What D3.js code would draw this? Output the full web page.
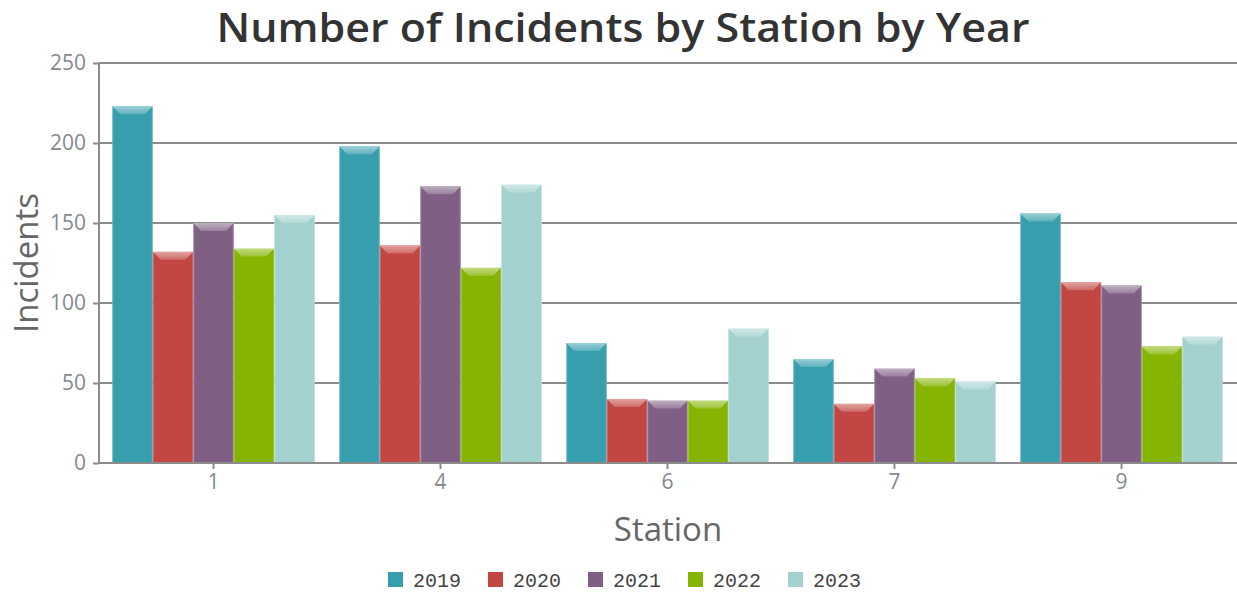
<!DOCTYPE html>
<html>
<head>
<meta charset="utf-8">
<script src="https://cdn.jsdelivr.net/npm/d3@7"></script>
<style>
  html, body { margin: 0; padding: 0; background: #fff; }
  svg { display: block; }
</style>
</head>
<body>
<svg id="chart" width="1237" height="592"></svg>
<script>
// Incidents per station, one series per year
const stations = ["1", "4", "6", "7", "9"];
const years = ["2019", "2020", "2021", "2022", "2023"];
const incidents2019 = [223, 198, 75, 65, 156];
const incidents2020 = [132, 136, 40, 37, 113];
const incidents2021 = [150, 173, 39, 59, 111];
const incidents2022 = [134, 122, 39, 53, 73];
const incidents2023 = [155, 174, 84, 51, 79];
const yTicks = [0, 50, 100, 150, 200, 250];
const yearColors = ["#369EAD", "#C24642", "#7F6084", "#86B402", "#A2D1CF"];

const seriesValues = [incidents2019, incidents2020, incidents2021, incidents2022, incidents2023];

const W = 1237, H = 592;
const plot = { left: 99, right: 1236, top: 63, bottom: 463 };
const svg = d3.select("#chart");

const labelFont = "'Open Sans', 'Segoe UI', sans-serif";

const x = d3.scaleBand()
  .domain(stations)
  .range([plot.left + 1, plot.right - 1])
  .paddingInner(0.108)
  .paddingOuter(0.054);

const xYear = d3.scaleBand()
  .domain(years)
  .range([0, x.bandwidth()])
  .padding(0);

const y = d3.scaleLinear()
  .domain([0, 250])
  .range([plot.bottom, plot.top]);

const color = d3.scaleOrdinal().domain(years).range(yearColors);

// Bevel gradient used on the top of every bar
const defs = svg.append("defs");
const grad = defs.append("linearGradient")
  .attr("id", "bevelTop").attr("x1", 0).attr("y1", 0).attr("x2", 0).attr("y2", 1);
grad.append("stop").attr("offset", "0%").attr("stop-color", "#fff").attr("stop-opacity", 0.5);
grad.append("stop").attr("offset", "100%").attr("stop-color", "#fff").attr("stop-opacity", 0.2);

// Horizontal grid lines
svg.append("g")
  .selectAll("line")
  .data(yTicks.filter(d => d > 0))
  .join("line")
  .attr("x1", plot.left)
  .attr("x2", W)
  .attr("y1", d => y(d))
  .attr("y2", d => y(d))
  .attr("stroke", "#8c8c8c")
  .attr("stroke-width", 2);

// Bars
const rows = stations.map((s, i) => ({
  station: s,
  values: years.map((yr, j) => ({ year: yr, value: seriesValues[j][i] }))
}));

const groups = svg.append("g")
  .selectAll("g")
  .data(rows)
  .join("g")
  .attr("transform", d => `translate(${x(d.station)},0)`);

const bars = groups.selectAll("g")
  .data(d => d.values)
  .join("g");

bars.append("rect")
  .attr("x", d => xYear(d.year))
  .attr("y", d => y(d.value))
  .attr("width", xYear.bandwidth())
  .attr("height", d => y(0) - y(d.value))
  .attr("fill", d => color(d.year));

const bevel = 8;
bars.append("path")
  .attr("d", d => {
    const x0 = xYear(d.year), x1 = x0 + xYear.bandwidth(), t = y(d.value);
    return `M${x0},${t}L${x1},${t}L${x1 - bevel},${t + bevel}L${x0 + bevel},${t + bevel}Z`;
  })
  .attr("fill", "url(#bevelTop)");

// thin light edges on each bar
bars.append("rect")
  .attr("x", d => xYear(d.year))
  .attr("y", d => y(d.value))
  .attr("width", 1)
  .attr("height", d => y(0) - y(d.value))
  .attr("fill", "#fff").attr("fill-opacity", 0.25);
bars.append("rect")
  .attr("x", d => xYear(d.year) + xYear.bandwidth() - 1)
  .attr("y", d => y(d.value))
  .attr("width", 1)
  .attr("height", d => y(0) - y(d.value))
  .attr("fill", "#fff").attr("fill-opacity", 0.2);

// Y axis
const yAxis = svg.append("g")
  .attr("transform", `translate(${plot.left},0)`)
  .call(d3.axisLeft(y).tickValues(yTicks).tickSize(6).tickPadding(7));
yAxis.select(".domain").attr("stroke", "#8c8c8c").attr("stroke-width", 2)
  .attr("d", `M0,${plot.top - 1}V${plot.bottom + 1}`);
yAxis.selectAll(".tick line").attr("stroke", "#8c8c8c").attr("stroke-width", 2);
yAxis.selectAll(".tick text")
  .attr("fill", "#84898f")
  .style("font-family", labelFont)
  .style("font-size", "21px");

// X axis
const xAxis = svg.append("g")
  .attr("transform", `translate(0,${plot.bottom})`)
  .call(d3.axisBottom(x).tickSize(6).tickPadding(5));
xAxis.select(".domain").attr("stroke", "#8c8c8c").attr("stroke-width", 2)
  .attr("d", `M${plot.left},0H${W}`);
xAxis.selectAll(".tick line").attr("stroke", "#8c8c8c").attr("stroke-width", 2);
xAxis.selectAll(".tick text")
  .attr("fill", "#84898f")
  .style("font-family", labelFont)
  .style("font-size", "21px");

// Title
svg.append("text")
  .attr("x", 623)
  .attr("y", 42)
  .attr("text-anchor", "middle")
  .attr("fill", "#333")
  .attr("textLength", 813)
  .attr("lengthAdjust", "spacingAndGlyphs")
  .style("font-family", labelFont)
  .style("font-weight", "600")
  .style("font-size", "39px")
  .text("Number of Incidents by Station by Year");

// Axis titles
svg.append("text")
  .attr("x", (plot.left + W) / 2)
  .attr("y", 541)
  .attr("text-anchor", "middle")
  .attr("fill", "#666")
  .style("font-family", labelFont)
  .style("font-size", "33px")
  .text("Station");

svg.append("text")
  .attr("transform", `translate(38,${(plot.top + plot.bottom) / 2}) rotate(-90)`)
  .attr("text-anchor", "middle")
  .attr("fill", "#666")
  .style("font-family", labelFont)
  .style("font-size", "33px")
  .text("Incidents");

// Legend
const legend = svg.append("g").attr("transform", "translate(388,572)");
const item = legend.selectAll("g")
  .data(years)
  .join("g")
  .attr("transform", (d, i) => `translate(${i * 100},0)`);
item.append("rect")
  .attr("width", 15).attr("height", 15)
  .attr("fill", d => color(d));
item.append("text")
  .attr("x", 25)
  .attr("y", 8)
  .attr("dy", "0.35em")
  .attr("fill", "#444")
  .style("font-family", "'Liberation Mono', 'Courier New', monospace")
  .style("font-size", "20px")
  .text(d => d);
</script>
</body>
</html>
